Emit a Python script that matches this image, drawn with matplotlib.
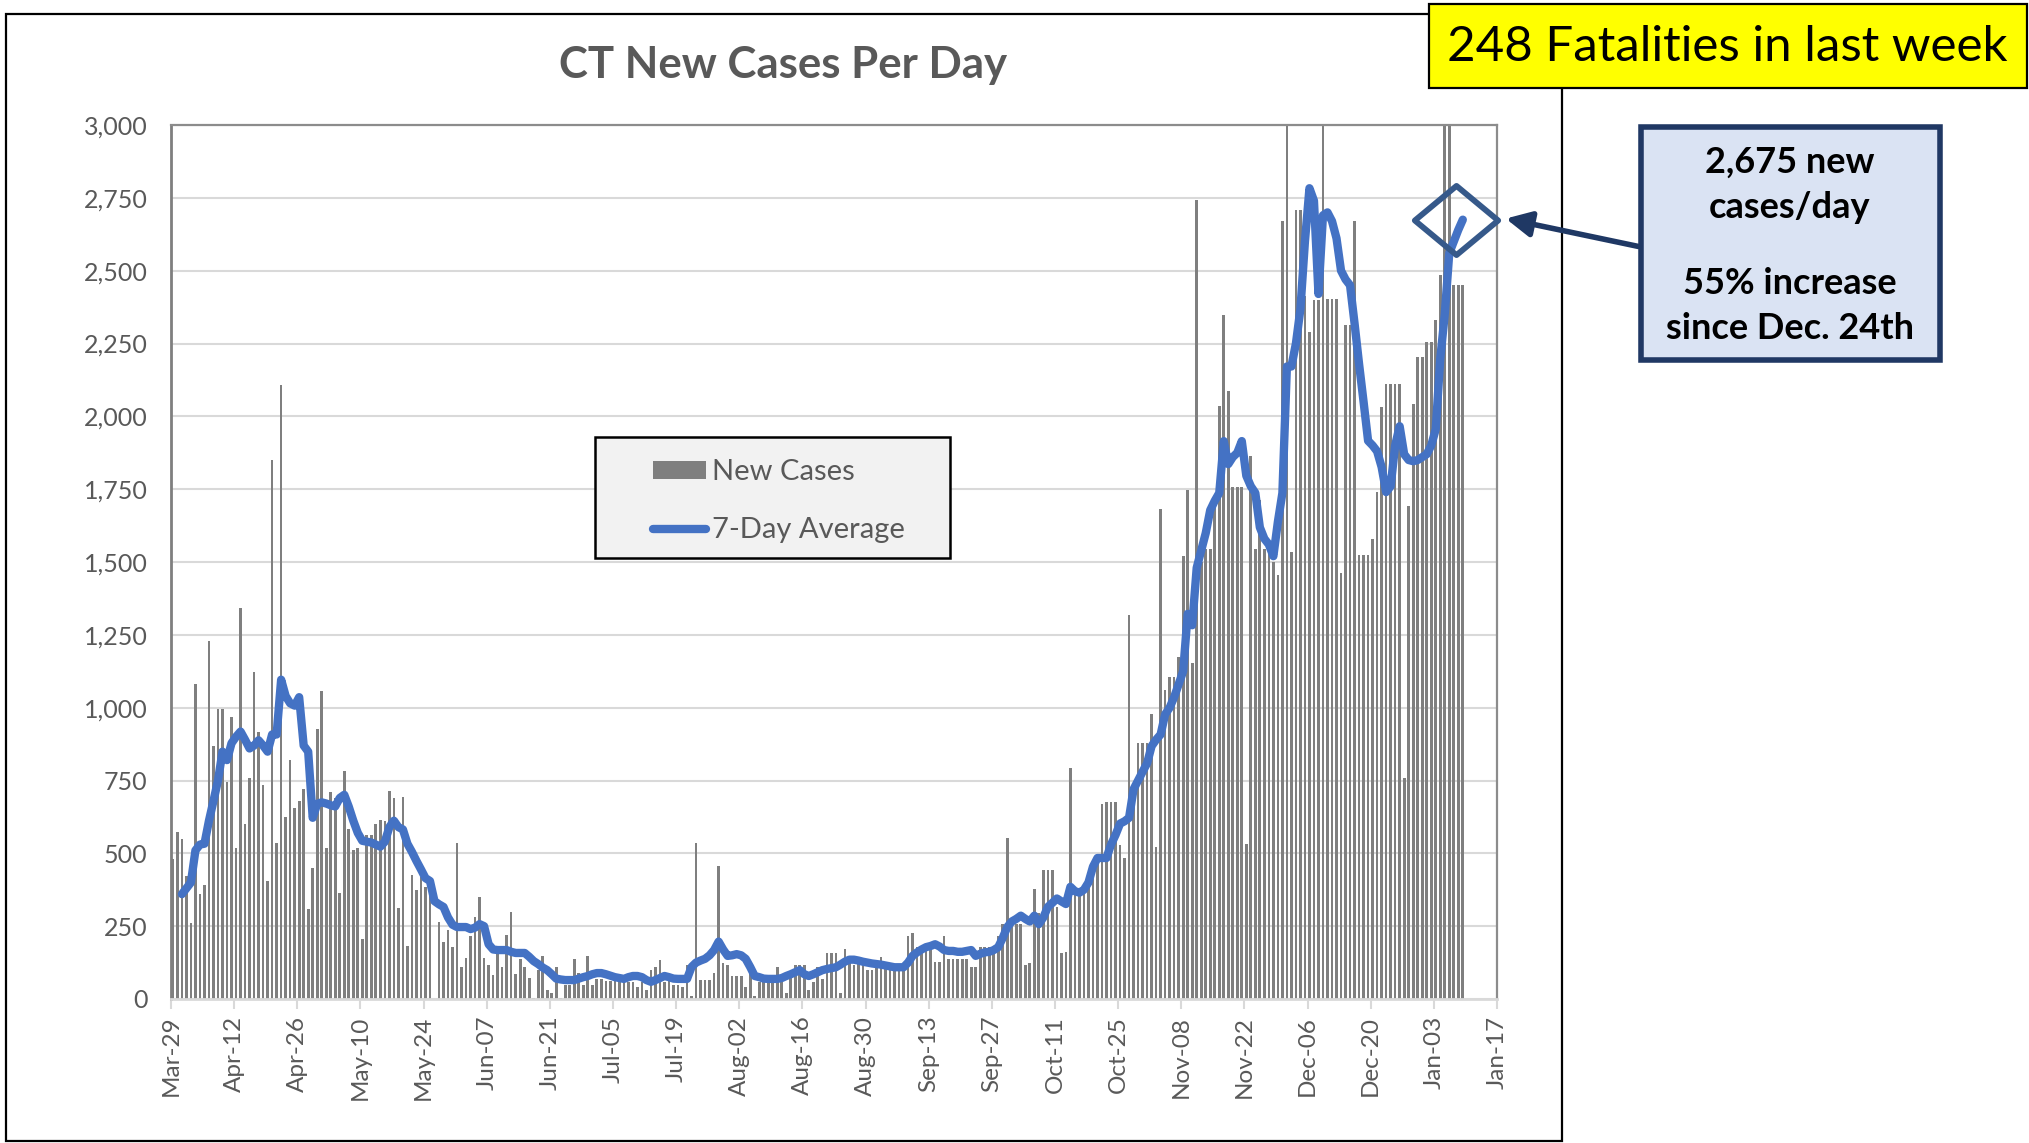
import pandas as pd
import matplotlib.pyplot as plt
from matplotlib.patches import Rectangle, Patch, FancyArrowPatch
from matplotlib.lines import Line2D
from matplotlib.path import Path

plt.rcParams['font.family'] = ['Lato', 'DejaVu Sans']

# daily new cases, starting Mar-29-2020
new_cases = [
    480, 572, 549, 422, 260, 1081, 359, 391, 1228, 868, 997, 997, 746, 967, 517, 1342,
    602, 760, 1121, 918, 734, 405, 1851, 537, 2108, 626, 819, 655, 681, 720, 308, 450,
    928, 1056, 517, 710, 691, 365, 783, 582, 513, 517, 207, 562, 562, 602, 616, 612,
    714, 691, 312, 695, 182, 424, 375, 418, 385, 418, 0, 266, 197, 237, 178, 537,
    109, 142, 217, 280, 351, 142, 118, 83, 158, 109, 221, 300, 85, 138, 109, 73,
    4, 99, 148, 30, 20, 109, 4, 49, 49, 138, 89, 49, 148, 49, 69, 69,
    63, 63, 63, 59, 59, 59, 59, 40, 59, 30, 99, 109, 134, 59, 65, 49,
    49, 40, 118, 10, 537, 65, 65, 65, 89, 458, 122, 118, 79, 79, 79, 40,
    89, 10, 59, 59, 59, 69, 109, 69, 20, 89, 118, 118, 118, 30, 59, 109,
    69, 158, 158, 158, 20, 172, 128, 118, 128, 128, 99, 99, 128, 144, 109, 109,
    118, 118, 99, 217, 227, 178, 178, 178, 178, 128, 128, 217, 138, 138, 138, 138,
    138, 109, 109, 178, 178, 178, 178, 217, 257, 553, 257, 257, 257, 118, 122, 379,
    296, 444, 444, 444, 316, 158, 162, 794, 365, 365, 365, 385, 474, 474, 671, 675,
    675, 675, 529, 484, 1319, 711, 878, 878, 878, 977, 523, 1682, 1062, 1105, 1105, 1175,
    1520, 1747, 1155, 2744, 1500, 1544, 1544, 1688, 2037, 2349, 2088, 1757, 1757, 1757, 533, 1865,
    1544, 1713, 1544, 1544, 1500, 1457, 2669, 3000, 1536, 2708, 2708, 2412, 2290, 2400, 2400, 3000,
    2403, 2403, 2403, 1463, 2315, 2315, 2671, 1524, 1524, 1524, 1578, 1739, 2033, 2110, 2110, 2110,
    2110, 759, 1691, 2041, 2202, 2202, 2255, 2255, 2329, 2484, 3000, 3000, 2450, 2450, 2450,
]

# 7-day average, starting Mar-31-2020
avg_7day = [
    360, 380, 400, 510, 530, 533, 612, 680, 750, 849, 820, 878, 900, 918, 890, 860,
    870, 888, 870, 849, 908, 908, 1096, 1040, 1015, 1007, 1036, 870, 849, 622, 670, 675,
    671, 665, 661, 690, 701, 660, 612, 570, 543, 540, 537, 530, 523, 540, 590, 612,
    590, 582, 533, 505, 474, 445, 415, 405, 336, 325, 316, 280, 255, 247, 247, 247,
    240, 245, 257, 250, 188, 170, 168, 168, 168, 162, 158, 158, 158, 145, 130, 120,
    108, 99, 85, 70, 67, 65, 65, 65, 70, 75, 79, 85, 89, 89, 85, 80,
    75, 72, 69, 75, 79, 79, 75, 65, 59, 65, 72, 79, 75, 70, 69, 69,
    69, 110, 125, 132, 138, 150, 168, 197, 170, 148, 150, 154, 150, 138, 110, 79,
    75, 70, 69, 69, 69, 72, 79, 85, 92, 99, 85, 79, 85, 92, 99, 103,
    106, 109, 118, 128, 135, 135, 132, 128, 125, 122, 120, 118, 115, 112, 109, 109,
    109, 125, 148, 160, 170, 178, 182, 188, 180, 168, 165, 165, 162, 162, 165, 168,
    148, 155, 160, 162, 168, 178, 210, 247, 266, 275, 286, 275, 266, 286, 257, 280,
    316, 330, 345, 335, 326, 385, 370, 365, 375, 400, 454, 484, 484, 484, 530, 563,
    602, 610, 622, 720, 750, 780, 809, 868, 890, 908, 977, 1000, 1036, 1080, 1125, 1322,
    1283, 1480, 1540, 1599, 1678, 1710, 1737, 1915, 1836, 1860, 1875, 1915, 1796, 1760, 1737, 1619,
    1580, 1560, 1520, 1638, 1737, 2171, 2171, 2250, 2369, 2600, 2783, 2740, 2420, 2690, 2700, 2670,
    2611, 2500, 2470, 2450, 2319, 2180, 2050, 1916, 1900, 1880, 1826, 1740, 1760, 1900, 1966, 1870,
    1850, 1846, 1850, 1860, 1870, 1900, 1956, 2198, 2350, 2560, 2600, 2640, 2675,
]

y_ticks = list(range(0, 3001, 250))

W, H = 2029, 1143


def fx(px):
    return px / W


def fy(py):
    return 1 - py / H


fig = plt.figure(figsize=(W / 100, H / 100), dpi=100)
fig.patch.set_facecolor('white')

# outer chart frame
fig.add_artist(Rectangle((fx(6), fy(1141)), fx(1562) - fx(6), fy(14) - fy(1141),
                         transform=fig.transFigure, fill=False, edgecolor='black', lw=1.6))

ax = fig.add_axes([fx(171), fy(999), fx(1497) - fx(171), fy(125) - fy(999)])

dates = pd.date_range('2020-03-29', periods=len(new_cases))
avg_dates = pd.date_range('2020-03-31', periods=len(avg_7day))
shift = pd.Timedelta(hours=10)

ax.bar(dates + shift, new_cases, width=0.6, color='#7F7F7F', zorder=2)
ax.plot(avg_dates + shift, avg_7day, color='#4472C4', lw=6,
        solid_capstyle='round', solid_joinstyle='round', zorder=3)

ax.set_ylim(0, 3000)
ax.set_xlim(pd.Timestamp('2020-03-29'), pd.Timestamp('2021-01-17'))
ax.set_yticks(y_ticks)
ax.set_yticklabels([f'{v:,}' for v in y_ticks])
xt = pd.date_range('2020-03-29', '2021-01-17', freq='14D')
ax.set_xticks(xt)
ax.set_xticklabels([d.strftime('%b-%d') for d in xt], rotation=90)

ax.yaxis.grid(True, color='#D9D9D9', lw=1.5)
ax.set_axisbelow(True)
ax.tick_params(axis='y', length=0, pad=17, labelsize=18, labelcolor='#595959')
ax.tick_params(axis='x', length=7, width=1.5, color='#D9D9D9', pad=5,
               labelsize=17.5, labelcolor='#595959')
ax.spines['left'].set_color('#7F7F7F')
ax.spines['left'].set_linewidth(2)
ax.spines['bottom'].set_color('#D9D9D9')
ax.spines['bottom'].set_linewidth(2)
for s in ['top', 'right']:
    ax.spines[s].set_color('#8C8C8C')
    ax.spines[s].set_linewidth(1.6)

fig.text(fx(783), fy(65), 'CT New Cases Per Day', ha='center', va='center',
         fontsize=31.5, weight='bold', color='#595959')

# legend
fig.add_artist(Rectangle((fx(595), fy(558)), fx(950) - fx(595), fy(437) - fy(558),
                         transform=fig.transFigure, facecolor='#F2F2F2',
                         edgecolor='black', lw=1.8, zorder=5))
handles = [Patch(facecolor='#7F7F7F', edgecolor='none'),
           Line2D([], [], color='#4472C4', lw=6, solid_capstyle='round')]
leg = fig.legend(handles, ['New Cases', '7-Day Average'], loc='upper left',
                 bbox_to_anchor=(fx(627), fy(433)), frameon=False, fontsize=21,
                 labelcolor='#595959', handlelength=1.8, handleheight=0.55,
                 handletextpad=0.2, labelspacing=1.1)
leg.set_zorder(6)

# diamond around last 7-day value
diamond = Path([(-1, 0), (0, 0.83), (1, 0), (0, -0.83), (-1, 0)],
               [Path.MOVETO, Path.LINETO, Path.LINETO, Path.LINETO, Path.CLOSEPOLY])
ax.plot([avg_dates[-1] - pd.Timedelta(days=1.4) + shift], [avg_7day[-1]],
        marker=diamond, ms=60, mfc='none', mec='#36598A', mew=4.2,
        clip_on=False, zorder=4)

# yellow box
fig.add_artist(Rectangle((fx(1429), fy(88)), fx(2027) - fx(1429), fy(4) - fy(88),
                         transform=fig.transFigure, facecolor='#FFFF00',
                         edgecolor='black', lw=1.6, zorder=7))
fig.text(fx(1727), fy(47), '248 Fatalities in last week', ha='center', va='center',
         fontsize=35.5, color='black', zorder=8)

# callout box
fig.add_artist(Rectangle((fx(1641), fy(360)), fx(1940) - fx(1641), fy(127) - fy(360),
                         transform=fig.transFigure, facecolor='#DAE3F3',
                         edgecolor='#203864', lw=4, zorder=7))
fig.text(fx(1790), fy(185), '2,675 new\ncases/day', ha='center', va='center',
         fontsize=26, weight='bold', linespacing=1.45, zorder=8)
fig.text(fx(1790), fy(306), '55% increase\nsince Dec. 24th', ha='center', va='center',
         fontsize=26, weight='bold', linespacing=1.45, zorder=8)

fig.add_artist(FancyArrowPatch((fx(1641), fy(247)), (fx(1503), fy(218)),
                               transform=fig.transFigure, arrowstyle='-|>',
                               mutation_scale=38, color='#1F3864', lw=4, zorder=8))

fig.savefig('out.png', dpi=100)
